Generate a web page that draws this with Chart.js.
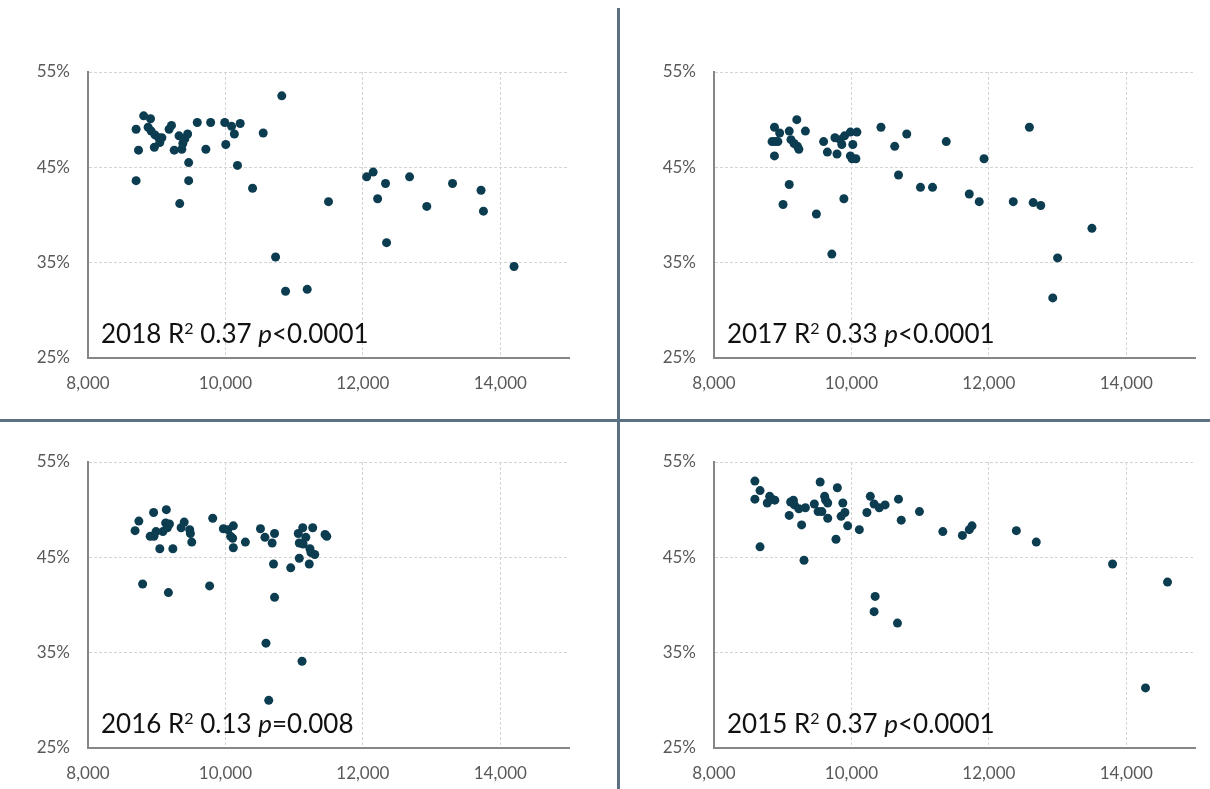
<!DOCTYPE html>
<html>
<head>
<meta charset="utf-8">
<script src="https://cdn.jsdelivr.net/npm/chart.js@4.4.1/dist/chart.umd.min.js"></script>
<style>
  html, body { margin: 0; padding: 0; background: #ffffff; }
  body { width: 1210px; height: 789px; overflow: hidden; position: relative; }
  .panel { position: absolute; width: 584px; height: 385px; }
  .divider { position: absolute; background: #5b7181; z-index: 5; }
</style>
</head>
<body>
<div class="panel" style="left:0px;top:30px"><canvas id="c2018" width="584" height="385"></canvas></div>
<div class="panel" style="left:626px;top:30px"><canvas id="c2017" width="584" height="385"></canvas></div>
<div class="panel" style="left:0px;top:420px"><canvas id="c2016" width="584" height="385"></canvas></div>
<div class="panel" style="left:626px;top:420px"><canvas id="c2015" width="584" height="385"></canvas></div>
<div class="divider" style="left:617px;top:8px;width:3px;height:781px"></div>
<div class="divider" style="left:0px;top:419px;width:1210px;height:3px"></div>
<script>
// Axis ticks shared by all four panels
const xTicks = [8000, 10000, 12000, 14000];
const yTicks = [25, 35, 45, 55];

// 2018
const x2018 = [8700, 8735, 8700, 8810, 8910, 8875, 8920, 8975, 9030, 9075, 9045, 8965, 9180, 9215, 9255,
  9325, 9365, 9380, 9410, 9450, 9465, 9465, 9335, 9590, 9715, 9785, 9990, 10005, 10090, 10130, 10215,
  10175, 10395, 10550, 10820, 10730, 10875, 11190, 11500, 12055, 12150, 12215, 12330, 12345, 12680,
  12930, 13305, 13720, 13755, 14200];
const y2018 = [49.0, 46.8, 43.6, 50.4, 50.1, 49.2, 48.8, 48.4, 48.1, 48.1, 47.6, 47.1, 49.0, 49.4, 46.8,
  48.3, 46.9, 47.5, 48.0, 48.5, 45.5, 43.6, 41.2, 49.7, 46.9, 49.7, 49.7, 47.4, 49.3, 48.5, 49.6,
  45.2, 42.8, 48.6, 52.5, 35.6, 32.0, 32.2, 41.4, 44.0, 44.5, 41.7, 43.3, 37.1, 44.0,
  40.9, 43.3, 42.6, 40.4, 34.6];

// 2017
const x2017 = [8845, 8890, 8930, 8880, 8880, 8955, 9095, 9120, 9165, 9205, 9215, 9235, 9330, 9095, 9005,
  9490, 9595, 9650, 9790, 9760, 9835, 9860, 9900, 9890, 9715, 9985, 10020, 9985, 10010, 10065, 10080,
  10430, 10630, 10685, 10805, 11005, 11180, 11380, 11715, 11860, 11930, 12355, 12590, 12645, 12755,
  13000, 12930, 13500];
const y2017 = [47.7, 47.7, 47.7, 49.2, 46.2, 48.6, 48.8, 47.9, 47.5, 50.0, 47.2, 46.9, 48.8, 43.2, 41.1,
  40.1, 47.7, 46.6, 46.4, 48.1, 47.9, 47.4, 48.3, 41.7, 35.9, 48.7, 47.4, 46.2, 45.9, 45.9, 48.7,
  49.2, 47.2, 44.2, 48.5, 42.9, 42.9, 47.7, 42.2, 41.4, 45.9, 41.4, 49.2, 41.3, 41.0,
  35.5, 31.3, 38.6];

// 2016
const x2016 = [8685, 8740, 8795, 8955, 8905, 8960, 8990, 9045, 9090, 9140, 9130, 9155, 9185, 9170, 9235,
  9355, 9400, 9480, 9490, 9510, 9770, 9815, 9970, 10035, 10115, 10075, 10105, 10115, 10290, 10510,
  10575, 10680, 10715, 10700, 10715, 10590, 10630, 10950, 11060, 11075, 11125, 11130, 11170, 11075,
  11230, 11245, 11300, 11220, 11270, 11450, 11475, 11115];
const y2016 = [47.8, 48.8, 42.2, 49.7, 47.2, 47.2, 47.7, 45.9, 47.7, 50.0, 48.6, 48.1, 48.5, 41.3, 45.9,
  48.1, 48.7, 47.9, 47.5, 46.6, 42.0, 49.1, 48.0, 47.9, 48.3, 47.2, 47.0, 46.0, 46.6, 48.0,
  47.1, 46.5, 47.5, 44.3, 40.8, 36.0, 30.0, 43.9, 47.5, 46.5, 48.1, 46.4, 47.1, 44.9,
  45.9, 45.5, 45.3, 44.3, 48.1, 47.4, 47.2, 34.1];

// 2015
const x2015 = [8595, 8595, 8670, 8670, 8775, 8810, 8845, 8885, 9095, 9115, 9155, 9170, 9235, 9275, 9330,
  9310, 9460, 9515, 9545, 9570, 9610, 9625, 9655, 9655, 9795, 9775, 9850, 9875, 9905, 9945, 10115,
  10225, 10275, 10330, 10405, 10490, 10345, 10330, 10670, 10685, 10725, 10990, 11330, 11615, 11715,
  11755, 12400, 12690, 13800, 14600, 14280];
const y2015 = [53.0, 51.1, 52.0, 46.1, 50.7, 51.4, 51.1, 51.0, 49.4, 50.8, 51.0, 50.5, 50.1, 48.4, 50.2,
  44.7, 50.6, 49.8, 52.9, 49.8, 51.4, 51.0, 50.7, 49.1, 52.3, 46.9, 49.3, 50.7, 49.7, 48.3, 47.9,
  49.7, 51.4, 50.6, 50.2, 50.5, 40.9, 39.3, 38.1, 51.1, 48.9, 49.8, 47.7, 47.3, 47.9,
  48.3, 47.8, 46.6, 44.3, 42.4, 31.3];

// Regression summary written in the lower-left corner of each panel
const stats = {
  2018: { r2: '0.37', op: '<', p: '0.0001' },
  2017: { r2: '0.33', op: '<', p: '0.0001' },
  2016: { r2: '0.13', op: '=', p: '0.008' },
  2015: { r2: '0.37', op: '<', p: '0.0001' }
};

const tickFont = { family: 'Lato, "Open Sans", sans-serif', size: 17 };
const tickColor = '#595959';
const pointColor = '#0c3c50';

const statLabel = {
  id: 'statLabel',
  afterDatasetsDraw(chart, args, opts) {
    const ctx = chart.ctx;
    const a = chart.chartArea;
    const s = stats[opts.year];
    const family = 'Lato, "Open Sans", sans-serif';
    const big = 26, small = 16;
    let x = a.left + 13;
    const y = a.bottom - 15;
    ctx.save();
    ctx.fillStyle = '#111111';
    ctx.textBaseline = 'alphabetic';
    ctx.textAlign = 'left';
    const put = (txt, font, dy) => {
      ctx.font = font;
      ctx.fillText(txt, x, y + (dy || 0));
      x += ctx.measureText(txt).width;
    };
    put(opts.year + ' R', big + 'px ' + family);
    put('2', small + 'px ' + family, -9);
    put(' ' + s.r2 + ' ', big + 'px ' + family);
    put('p', 'italic ' + big + 'px ' + family);
    put(s.op + s.p, big + 'px ' + family);
    ctx.restore();
  }
};

function makeChart(id, year, xs, ys) {
  const points = xs.map((v, i) => ({ x: v, y: ys[i] }));
  return new Chart(document.getElementById(id), {
    type: 'scatter',
    data: {
      datasets: [{
        data: points,
        backgroundColor: pointColor,
        borderColor: pointColor,
        borderWidth: 0,
        pointRadius: 4.5,
        pointHoverRadius: 4.5
      }]
    },
    options: {
      responsive: false,
      animation: false,
      events: [],
      layout: { padding: { left: 0, top: 42, right: 15, bottom: 0 } },
      plugins: {
        legend: { display: false },
        tooltip: { enabled: false },
        statLabel: { year: year }
      },
      scales: {
        x: {
          type: 'linear',
          min: 8000,
          max: 15000,
          afterBuildTicks: s => { s.ticks = xTicks.map(v => ({ value: v })); },
          afterFit: s => { s.height = 57; },
          ticks: {
            font: tickFont,
            color: tickColor,
            padding: 15,
            maxRotation: 0,
            callback: v => v.toLocaleString('en-US')
          },
          grid: { color: '#d4d4d4', lineWidth: 1, drawTicks: false },
          border: { display: true, color: '#868686', width: 2, dash: [3, 2] }
        },
        y: {
          type: 'linear',
          min: 25,
          max: 55,
          afterBuildTicks: s => { s.ticks = yTicks.map(v => ({ value: v })); },
          afterFit: s => { s.width = 88; },
          ticks: {
            font: tickFont,
            color: tickColor,
            padding: 18,
            callback: v => v + '%'
          },
          grid: { color: '#d4d4d4', lineWidth: 1, drawTicks: false },
          border: { display: true, color: '#868686', width: 2, dash: [3, 2] }
        }
      }
    },
    plugins: [statLabel]
  });
}

makeChart('c2018', 2018, x2018, y2018);
makeChart('c2017', 2017, x2017, y2017);
makeChart('c2016', 2016, x2016, y2016);
makeChart('c2015', 2015, x2015, y2015);
</script>
</body>
</html>
